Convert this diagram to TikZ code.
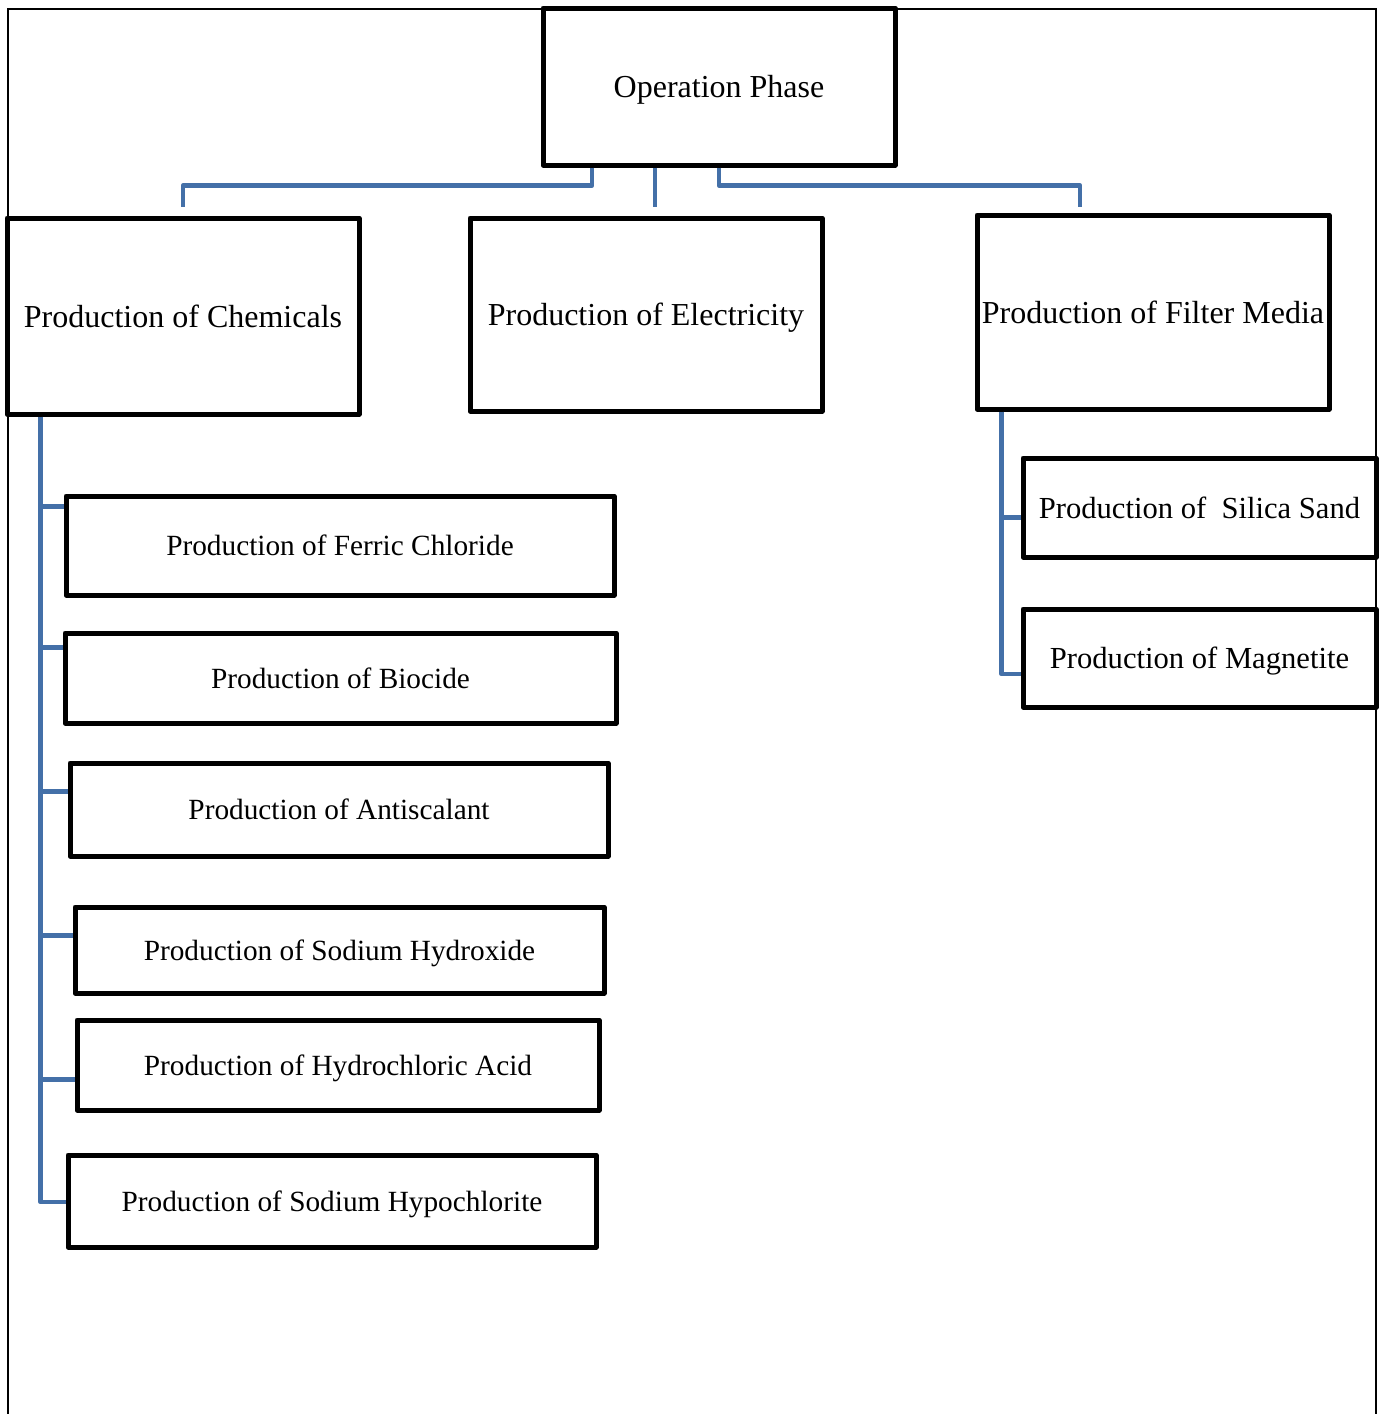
\documentclass[tikz,border=0pt]{standalone}
\usepackage{fontspec}
\setmainfont{Liberation Serif}
\usetikzlibrary{fit,calc}
\definecolor{connblue}{RGB}{68,112,168}
\tikzset{
  box/.style={draw=black, line width=2.5pt, line join=round, inner sep=0pt, fill=white},
  big/.style={font=\fontsize{16}{19}\selectfont},
  mid/.style={font=\fontsize{15.3}{18}\selectfont},
  small/.style={font=\fontsize{14.65}{17}\selectfont},
  conn/.style={draw=connblue, line width=2.4pt, line join=round},
  frame/.style={draw=black, line width=0.8pt}
}
\begin{document}
\begin{tikzpicture}[x=0.5pt,y=-0.5pt]
\useasboundingbox[fill=white] (0,0) rectangle (1382,1414);
\draw[frame] (8,1414) -- (8,9) -- (1376,9) -- (1376,1414);

\node[box, fit={(543,8) (895,165)}] (op) {};
\node[big] (optxt) at ($(op.center)+(0,3)$) {Operation Phase};

\node[box, fit={(7,218) (359,414)}] (chem) {};
\node[big] (chemtxt) at (chem.center) {Production of Chemicals};
\node[box, fit={(470,218) (822,411)}] (elec) {};
\node[big] (electxt) at ($(elec.center)+(0,3)$) {Production of Electricity};
\node[box, fit={(977,215) (1329,409)}] (filt) {};
\node[big] (filttxt) at (filt.center) {Production of Filter Media};

\node[box, fit={(1023,458) (1376,557)}] (sil) {};
\node[mid] (siltxt) at (sil.center) {Production of \ Silica Sand};
\node[box, fit={(1023,609) (1376,707)}] (mag) {};
\node[mid] (magtxt) at ($(mag.center)+(0,3)$) {Production of Magnetite};

\node[box, fit={(66,496) (614,595)}] (fer) {};
\node[small] (fertxt) at (fer.center) {Production of Ferric Chloride};
\node[box, fit={(65,633) (616,723)}] (bio) {};
\node[small] (biotxt) at (bio.center) {Production of Biocide};
\node[box, fit={(70,763) (608,856)}] (anti) {};
\node[small] (antitxt) at (anti.center) {Production of Antiscalant};
\node[box, fit={(75,907) (604,993)}] (hyd) {};
\node[small] (hydtxt) at ($(hyd.center)+(0,3)$) {Production of Sodium Hydroxide};
\node[box, fit={(77,1020) (599,1110)}] (hcl) {};
\node[small] (hcltxt) at ($(hcl.center)+(0,3)$) {Production of Hydrochloric Acid};
\node[box, fit={(68,1155) (596,1247)}] (hypo) {};
\node[small] (hypotxt) at ($(hypo.center)+(0,3)$) {Production of Sodium Hypochlorite};

% top connectors
\draw[conn] ($(op.south)+(-127,0)$) |- ($(chem.north)+(0,-30)$) -- ($(chem.north)+(0,-9)$);
\draw[conn] ($(op.south)+(-64,0)$) -- ($(elec.north -| op.south)+(-64,-9)$);
\draw[conn] (op.south) |- ($(filt.north)+(-73,-27)$) -| ($(filt.north)+(-73,-6)$);

% left trunk
\coordinate (tl) at ($(chem.south west)+(36,0)$);
\draw[conn] (tl) |- ($(hypo.west)+(0,1)$);
\draw[conn] ($(fer.north west)+(0,13)$) -- ($(fer.north west)+(-23,13)$);
\draw[conn] ($(bio.north west)+(0,17)$) -- ($(bio.north west)+(-22,17)$);
\draw[conn] ($(anti.north west)+(0,31)$) -- ($(anti.north west)+(-27,31)$);
\draw[conn] ($(hyd.north west)+(0,31)$) -- ($(hyd.north west)+(-32,31)$);
\draw[conn] ($(hcl.north west)+(0,62)$) -- ($(hcl.north west)+(-34,62)$);

% right trunk
\coordinate (tr) at ($(filt.south west)+(27,0)$);
\draw[conn] (tr) |- ($(mag.west)+(0,16)$);
\draw[conn] ($(sil.west)+(0,10)$) -- ($(sil.west)+(-19,10)$);

\end{tikzpicture}
\end{document}
